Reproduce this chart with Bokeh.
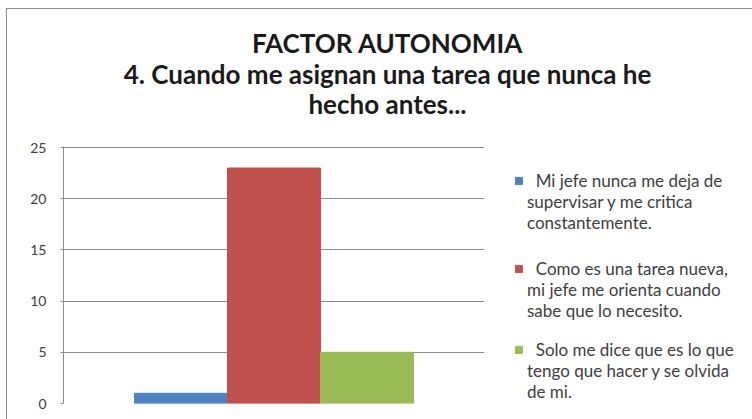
from bokeh.plotting import figure
from bokeh.layouts import column, row
from bokeh.models import (FactorRange, Range1d, Legend, LegendItem, Label)
from bokeh.embed import file_html
from bokeh.resources import INLINE

title_lines = ["FACTOR AUTONOMIA",
               "4. Cuando me asignan una tarea que nunca he",
               "hecho antes..."]
series_keys = ["a", "b", "c"]
series_label_lines = [["  Mi jefe nunca me deja de", "supervisar y me critica", "constantemente."],
                      ["  Como es una tarea nueva,", "mi jefe me orienta cuando", "sabe que lo necesito."],
                      ["  Solo me dice que es lo que", "tengo que hacer y se olvida", "de mi."]]
values = [1, 23, 5]
colors = ["#4F81BD", "#C0504D", "#9BBB59"]
y_ticks = [0, 5, 10, 15, 20, 25]

FONT = "Lato"
GRID = "#8C8C8C"
TXT = "#404040"

# ---------- title strip ----------
TW, TH = 746, 130
tp = figure(width=TW, height=TH, output_backend="svg", toolbar_location=None,
            x_range=Range1d(0, 1), y_range=Range1d(0, 1),
            min_border=0, outline_line_color=None)
tp.axis.visible = False
tp.grid.visible = False
for t, y in zip(title_lines, [33, 64, 94]):
    tp.add_layout(Label(x=380, y=TH - y, x_units="screen", y_units="screen",
                        text=t, text_align="center", text_baseline="middle",
                        text_font=FONT, text_font_style="bold",
                        text_font_size="26px", text_color="#1A1A1A"))

# ---------- chart ----------
CW, CH = 484, 281
p = figure(width=CW, height=CH, output_backend="svg", toolbar_location=None,
           x_range=FactorRange(factors=series_keys, range_padding=0.509),
           y_range=Range1d(0, 25.1))
p.min_border_left = 56
p.min_border_right = 7
p.min_border_top = 7
p.min_border_bottom = 17
p.outline_line_color = None
for k, v, c in zip(series_keys, values, colors):
    p.vbar(x=[k], top=[v], width=1.0, fill_color=c, line_color=c)
p.xaxis.visible = False
p.xgrid.visible = False
p.ygrid.grid_line_color = GRID
p.ygrid.ticker = y_ticks
p.yaxis.ticker = y_ticks
p.yaxis.axis_line_color = GRID
p.yaxis.major_tick_line_color = GRID
p.yaxis.major_tick_out = 3
p.yaxis.major_tick_in = 0
p.yaxis.minor_tick_line_color = None
p.yaxis.major_label_standoff = 14
p.yaxis.major_label_text_font = FONT
p.yaxis.major_label_text_font_size = "14px"
p.yaxis.major_label_text_color = TXT

# ---------- legend ----------
LW, LH = 262, 281
ITEM_H = 22.5
lp = figure(width=LW, height=LH, output_backend="svg", toolbar_location=None,
            x_range=Range1d(0, 1), y_range=Range1d(0, 1),
            x_axis_type=None, y_axis_type=None,
            min_border=0, outline_line_color=None)
lp.grid.visible = False
first_line_y = [178, 266, 362]   # page y of each entry's first line
nudge = [-15, -15, 0]
for c, lines, fy, n in zip(colors, series_label_lines, first_line_y, nudge):
    sw = lp.vbar(x=[0], top=[0], width=1, fill_color=c, line_color=c, visible=False)
    blank = lp.vbar(x=[0], top=[0], width=1, fill_alpha=0, line_alpha=0, visible=False)
    items = [LegendItem(label=lines[0], renderers=[sw])]
    items += [LegendItem(label=l, renderers=[blank]) for l in lines[1:]]
    vy = 419 - (fy - ITEM_H / 2 + ITEM_H * len(lines)) + n
    lg = Legend(items=items, location=(23, vy),
                border_line_color=None, background_fill_alpha=0,
                padding=0, margin=0, spacing=0,
                glyph_width=9, glyph_height=9, label_standoff=4,
                label_height=21, label_text_font=FONT,
                label_text_font_size="17px", label_text_color=TXT)
    lp.add_layout(lg, "center")

layout = column(tp, row(p, lp, spacing=0), spacing=0)
layout.margin = (8, 0, 0, 6)
layout.styles = {"border-left": "1px solid " + GRID, "border-top": "1px solid " + GRID}

open("out.html", "w").write(file_html(layout, INLINE))
